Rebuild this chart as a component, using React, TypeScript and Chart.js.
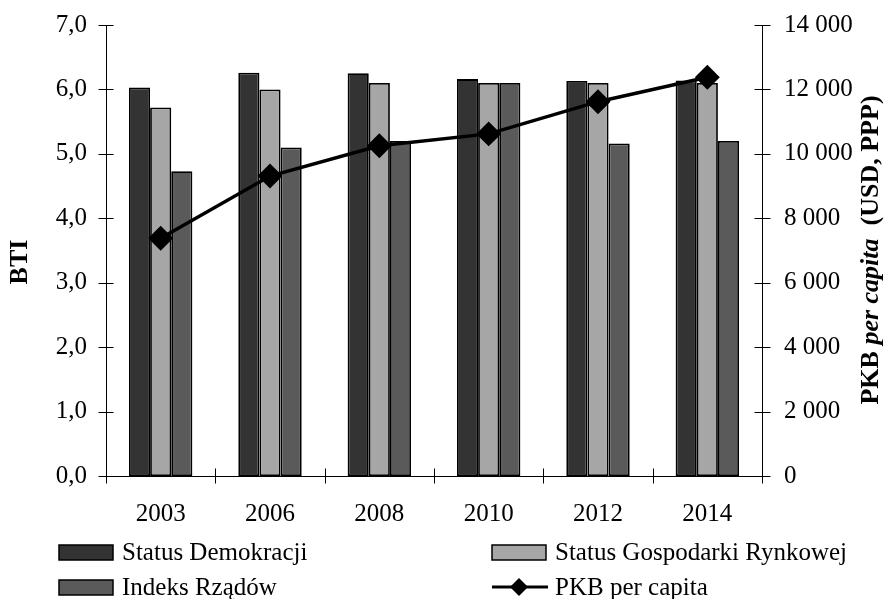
import React, { useEffect, useRef } from "react";
import { Chart, registerables } from "chart.js";

Chart.register(...registerables);

const categories = ["2003", "2006", "2008", "2010", "2012", "2014"];
const statusDemokracji = [6.03, 6.26, 6.25, 6.16, 6.13, 6.14];
const statusGospodarki = [5.72, 6.0, 6.1, 6.1, 6.1, 6.1];
const indeksRzadow = [4.73, 5.1, 5.2, 6.1, 5.16, 5.2];
const pkbPerCapita = [7380, 9310, 10250, 10620, 11620, 12380];
const leftTickLabels = ["0,0", "1,0", "2,0", "3,0", "4,0", "5,0", "6,0", "7,0"];
const rightTickLabels = ["0", "2 000", "4 000", "6 000", "8 000", "10 000", "12 000", "14 000"];
const seriesNames = ["Status Demokracji", "Status Gospodarki Rynkowej", "Indeks Rządów", "PKB per capita"];

const FONT = "'Liberation Serif', 'Times New Roman', serif";
const COLORS = { dark: "#333333", light: "#a6a6a6", mid: "#5a5a5a" };

const customPlugin = {
  id: "customDecor",
  afterDraw(chart: any) {
    const ctx = chart.ctx as CanvasRenderingContext2D;
    const { left, right, top, bottom } = chart.chartArea;
    const y = chart.scales.y;
    const y1 = chart.scales.y1;
    const x = chart.scales.x;
    ctx.save();
    ctx.strokeStyle = "#000";
    ctx.lineWidth = 1;
    const line = (x1: number, yy1: number, x2: number, yy2: number) => {
      ctx.beginPath();
      ctx.moveTo(x1, yy1);
      ctx.lineTo(x2, yy2);
      ctx.stroke();
    };
    const L = Math.round(left) + 0.5;
    const R = Math.round(right) + 0.5;
    const B = Math.round(bottom) + 0.5;
    line(L, top, L, B);
    line(R, top, R, B);
    line(L, B, R, B);
    y.ticks.forEach((t: any) => {
      const py = Math.round(y.getPixelForValue(t.value)) + 0.5;
      line(L - 8, py, L + 7, py);
    });
    y1.ticks.forEach((t: any) => {
      const py = Math.round(y1.getPixelForValue(t.value)) + 0.5;
      line(R - 8, py, R + 8, py);
    });
    for (let i = 0; i <= categories.length; i++) {
      const px = Math.round(x.getPixelForValue(i - 0.5)) + 0.5;
      line(px, B - 8, px, B + 7);
    }

    ctx.fillStyle = "#000";
    ctx.textBaseline = "middle";
    ctx.save();
    ctx.translate(20, 262);
    ctx.rotate(-Math.PI / 2);
    ctx.textAlign = "center";
    ctx.font = `bold 26px ${FONT}`;
    ctx.fillText("BTI", 0, 0);
    ctx.restore();

    ctx.save();
    ctx.translate(871, 250);
    ctx.rotate(-Math.PI / 2);
    ctx.textAlign = "left";
    const segs = [
      { t: "PKB ", f: `bold 26px ${FONT}` },
      { t: "per capita", f: `italic bold 26px ${FONT}` },
      { t: "  (USD, PPP)", f: `bold 26px ${FONT}` },
    ];
    let total = 0;
    segs.forEach((s) => {
      ctx.font = s.f;
      total += ctx.measureText(s.t).width;
    });
    let cx = -total / 2;
    segs.forEach((s) => {
      ctx.font = s.f;
      ctx.fillText(s.t, cx, 0);
      cx += ctx.measureText(s.t).width;
    });
    ctx.restore();

    ctx.font = `25px ${FONT}`;
    ctx.textAlign = "left";
    ctx.textBaseline = "middle";
    const items = [
      { name: seriesNames[0], color: COLORS.dark, x: 59, y: 552, type: "box" },
      { name: seriesNames[1], color: COLORS.light, x: 492, y: 552, type: "box" },
      { name: seriesNames[2], color: COLORS.mid, x: 59, y: 587, type: "box" },
      { name: seriesNames[3], color: "#000", x: 492, y: 587, type: "line" },
    ];
    items.forEach((it) => {
      if (it.type === "box") {
        ctx.fillStyle = it.color;
        ctx.fillRect(it.x, it.y - 7, 54, 15);
        ctx.lineWidth = 1.5;
        ctx.strokeStyle = "#000";
        ctx.strokeRect(it.x, it.y - 7, 54, 15);
      } else {
        ctx.strokeStyle = "#000";
        ctx.lineWidth = 3;
        line(it.x, it.y, it.x + 56, it.y);
        ctx.fillStyle = "#000";
        const cxm = it.x + 27;
        const r = 9;
        ctx.beginPath();
        ctx.moveTo(cxm, it.y - r);
        ctx.lineTo(cxm + r, it.y);
        ctx.lineTo(cxm, it.y + r);
        ctx.lineTo(cxm - r, it.y);
        ctx.closePath();
        ctx.fill();
      }
      ctx.fillStyle = "#000";
      ctx.fillText(it.name, it.x + 63, it.y + 1);
    });
    ctx.restore();
  },
};

export default function App() {
  const canvasRef = useRef<HTMLCanvasElement | null>(null);

  useEffect(() => {
    if (!canvasRef.current) return;
    const tickFont = { family: FONT, size: 25 };
    const barCommon = {
      type: "bar" as const,
      borderColor: "#000",
      borderWidth: 1.8,
      borderSkipped: false as const,
      categoryPercentage: 0.58,
      barPercentage: 1.0,
      yAxisID: "y",
      order: 1,
    };
    const chart = new Chart(canvasRef.current, {
      type: "bar",
      data: {
        labels: categories,
        datasets: [
          {
            type: "line",
            label: seriesNames[3],
            data: pkbPerCapita,
            yAxisID: "y1",
            borderColor: "#000",
            backgroundColor: "#000",
            borderWidth: 3.5,
            pointStyle: "rectRot",
            pointRadius: 10,
            pointBackgroundColor: "#000",
            pointBorderColor: "#000",
            tension: 0,
            order: 0,
          } as any,
          { ...barCommon, label: seriesNames[0], data: statusDemokracji, backgroundColor: COLORS.dark },
          { ...barCommon, label: seriesNames[1], data: statusGospodarki, backgroundColor: COLORS.light },
          { ...barCommon, label: seriesNames[2], data: indeksRzadow, backgroundColor: COLORS.mid },
        ],
      },
      options: {
        animation: false,
        responsive: true,
        maintainAspectRatio: false,
        layout: { padding: { top: 25, left: 0, right: 0, bottom: 0 } },
        plugins: { legend: { display: false }, tooltip: { enabled: false } },
        scales: {
          x: {
            type: "category",
            offset: true,
            grid: { display: false, drawTicks: false, offset: true },
            border: { display: false },
            ticks: { font: tickFont, color: "#000", padding: 23, maxRotation: 0 },
            afterFit: (s: any) => {
              s.height = 123;
              s.paddingLeft = 0;
              s.paddingRight = 0;
            },
          },
          y: {
            type: "linear",
            position: "left",
            min: 0,
            max: 7,
            grid: { display: false, drawTicks: false },
            border: { display: false },
            ticks: {
              stepSize: 1,
              font: tickFont,
              color: "#000",
              padding: 19,
              callback: (_v: any, i: number) => leftTickLabels[i],
            },
            afterFit: (s: any) => {
              s.width = 106;
              s.paddingTop = 0;
              s.paddingBottom = 0;
            },
          },
          y1: {
            type: "linear",
            position: "right",
            min: 0,
            max: 14000,
            grid: { display: false, drawTicks: false },
            border: { display: false },
            ticks: {
              stepSize: 2000,
              font: tickFont,
              color: "#000",
              padding: 22,
              callback: (_v: any, i: number) => rightTickLabels[i],
            },
            afterFit: (s: any) => {
              s.width = 124;
              s.paddingTop = 0;
              s.paddingBottom = 0;
            },
          },
        },
      } as any,
      plugins: [customPlugin],
    });
    return () => chart.destroy();
  }, []);

  return (
    <div style={{ position: "fixed", left: 0, top: 0, width: 886, height: 599, background: "#fff" }}>
      <canvas ref={canvasRef} />
    </div>
  );
}
